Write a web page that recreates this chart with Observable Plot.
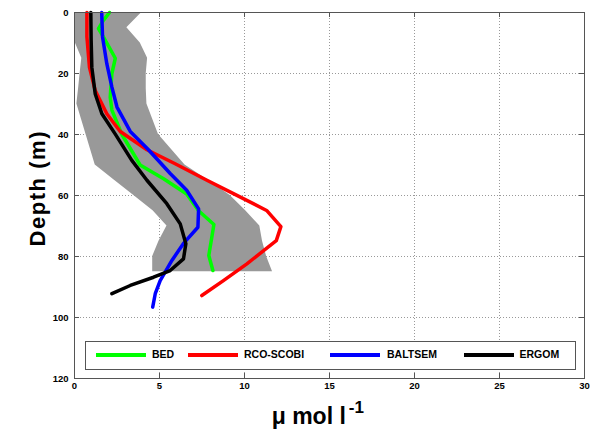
<!DOCTYPE html>
<html><head><meta charset="utf-8">
<script src="https://cdn.jsdelivr.net/npm/d3@7"></script>
<script src="https://cdn.jsdelivr.net/npm/@observablehq/plot@0.6"></script>
<style>
body{margin:0;background:#fff;}
#wrap{position:relative;width:592px;height:430px;overflow:hidden;background:#fff;}
#legend{position:absolute;left:85px;top:341px;width:491px;height:29px;border:1px solid #555;background:#fff;box-sizing:border-box;font:bold 10.5px "Liberation Sans",Arial,sans-serif;color:#000;}
#legend .sw{position:absolute;height:4px;width:50px;top:11px;}
#legend .lb{position:absolute;top:6px;line-height:12px;white-space:nowrap;}
</style></head>
<body><div id="wrap"></div>
<script>
// ---- data ----
const xTicks = [0, 5, 10, 15, 20, 25, 30];
const yTicks = [0, 20, 40, 60, 80, 100, 120];
const seriesNames = ["BED", "RCO-SCOBI", "BALTSEM", "ERGOM"];
const seriesColors = ["#00ff00", "#ff0000", "#0000ff", "#000000"];

const bandDepth = [0, 5, 10, 15, 20, 25, 30, 35, 40, 45, 50, 55, 60, 65, 70, 75, 80, 85];
const bandLow   = [0, 0, 0.05, 0.43, 0.33, 0.24, 0.14, 0.41, 0.68, 0.95, 1.22, 2.35, 3.49, 4.62, 5.44, 4.97, 4.6, 4.6];
const bandHigh  = [3.96, 3.08, 3.87, 4.3, 4.22, 4.22, 4.26, 4.6, 4.94, 5.72, 6.5, 7.86, 9.16, 10.07, 10.9, 11.06, 11.3, 11.65];

const bedDepth = [0, 2.6, 5.3, 8, 15, 20, 27.8, 32, 40, 50, 54.5, 59.5, 65, 69.5, 79.7, 84.6];
const bedX     = [2.06, 1.7, 1.41, 1.7, 2.4, 2.2, 2.1, 2.2, 2.79, 3.86, 5.24, 6.6, 7.3, 8.2, 7.9, 8.14];

const rcoDepth = [0, 8, 18, 25.6, 33.2, 39, 45, 49.6, 55, 59.4, 64.9, 70.2, 74.8, 82.4, 87.9, 92.8];
const rcoX     = [0.73, 0.73, 0.88, 1.22, 1.9, 2.69, 4.26, 5.92, 7.79, 9.35, 11.3, 12.14, 11.87, 10.14, 8.76, 7.49];

const baltDepth = [0, 8, 16.8, 24.5, 31, 39, 45, 52.8, 58.3, 64.4, 70.4, 75.8, 81.3, 87.9, 92.2, 96.6];
const baltX     = [1.6, 1.65, 1.9, 2.2, 2.5, 3.28, 4.35, 5.63, 6.6, 7.3, 7.26, 6.4, 5.73, 5.04, 4.75, 4.6];

const ergDepth = [0, 9.2, 18, 26.7, 33.2, 39.8, 48.5, 55, 62.7, 69.3, 75.8, 80.8, 84.6, 86.8, 89.5, 92.2];
const ergX     = [0.96, 0.98, 1.02, 1.22, 1.61, 2.39, 3.37, 4.26, 5.43, 6.22, 6.55, 6.41, 5.63, 4.65, 3.28, 2.2];

const titleText = "Nitrate at BY15";
const yLabel = "Depth (m)";
const xLabelMain = "\u03bc mol l";
const xLabelSup = "-1";

// ---- build ----
const W = 592, H = 430, mL = 74, mR = 8, mT = 12, mB = 52;
const pw = W - mL - mR, ph = H - mT - mB;
const band = bandDepth.map((d, i) => ({depth: d, lo: bandLow[i], hi: bandHigh[i]}));
const seriesData = [[bedDepth, bedX], [rcoDepth, rcoX], [baltDepth, baltX], [ergDepth, ergX]];
const rows = [];
seriesData.forEach(([ds, xs], i) => ds.forEach((d, j) => rows.push({series: seriesNames[i], depth: d, value: xs[j]})));

const frameCol = "#555";
const chart = Plot.plot({
  width: W, height: H, marginLeft: mL, marginRight: mR, marginTop: mT, marginBottom: mB,
  style: {fontFamily: '"Liberation Sans", Arial, sans-serif', fontSize: "9.5px", fontWeight: "bold", background: "white", color: "black"},
  x: {domain: [0, 30], label: null},
  y: {domain: [0, 120], reverse: true, label: null},
  marks: [
    Plot.ruleX(xTicks.slice(1, -1), {x: d => d, stroke: "#999", strokeDasharray: "1,2"}),
    Plot.ruleY(yTicks.slice(1, -1), {y: d => d, stroke: "#999", strokeDasharray: "1,2"}),
    Plot.areaX(band, {y: "depth", x1: "lo", x2: "hi", fill: "#999999", fillOpacity: 1}),
    ...seriesNames.map((s, i) => Plot.line(rows.filter(r => r.series === s), {x: "value", y: "depth", stroke: seriesColors[i], strokeWidth: 3.5})),
    Plot.frame({stroke: frameCol}),
    Plot.tickX(xTicks, {x: d => d, insetBottom: ph - 5, stroke: frameCol}),
    Plot.tickX(xTicks, {x: d => d, insetTop: ph - 5, stroke: frameCol}),
    Plot.tickY(yTicks, {y: d => d, insetRight: pw - 5, stroke: frameCol}),
    Plot.tickY(yTicks, {y: d => d, insetLeft: pw - 5, stroke: frameCol}),
    Plot.axisX(xTicks, {anchor: "bottom", tickSize: 0, tickPadding: 4, label: null}),
    Plot.axisY(yTicks, {anchor: "left", tickSize: 0, tickPadding: 6, label: null})
  ]
});

const svg = d3.select(chart);
svg.append("text").attr("x", 327).attr("y", 0).attr("text-anchor", "middle")
  .style("font", 'bold 24px "Liberation Sans", Arial, sans-serif').attr("fill", "#333").text(titleText);
svg.append("text").attr("transform", "translate(44.5,189) rotate(-90)").attr("text-anchor", "middle")
  .style("font", 'bold 22px "Liberation Sans", Arial, sans-serif').attr("fill", "#000")
  .attr("textLength", 115).attr("lengthAdjust", "spacing").text(yLabel);
const xl = svg.append("text").attr("x", 271.7).attr("y", 424.3).attr("text-anchor", "start")
  .style("font", 'bold 23px "Liberation Sans", Arial, sans-serif').attr("fill", "#000");
xl.append("tspan").text(xLabelMain);
xl.append("tspan").attr("dx", 3).attr("dy", -11.5).style("font-size", "17px").text(xLabelSup);

const wrap = document.getElementById("wrap");
wrap.appendChild(chart);

// legend overlay
const legend = document.createElement("div");
legend.id = "legend";
const swLeft = [10, 102, 244, 377.5];
const lbLeft = [66, 158, 301, 433.5];
seriesNames.forEach((s, i) => {
  const sw = document.createElement("div");
  sw.className = "sw"; sw.style.left = swLeft[i] + "px"; sw.style.background = seriesColors[i];
  legend.appendChild(sw);
  const lb = document.createElement("div");
  lb.className = "lb"; lb.style.left = lbLeft[i] + "px"; lb.textContent = s;
  legend.appendChild(lb);
});
wrap.appendChild(legend);
</script>
</body></html>
